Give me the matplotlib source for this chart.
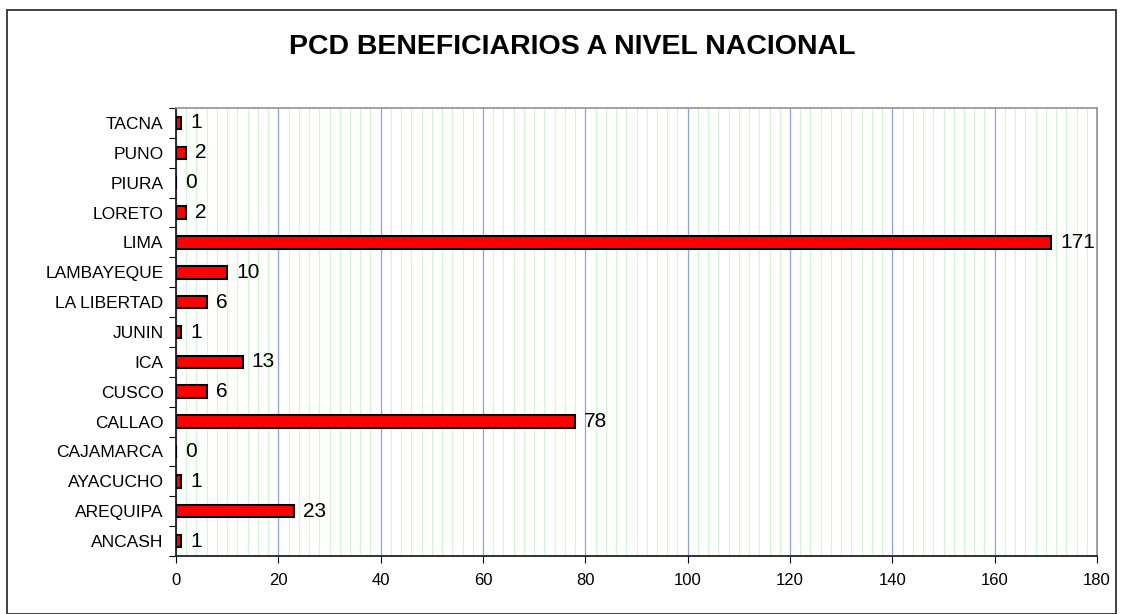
import matplotlib
matplotlib.use("Agg")
import matplotlib.pyplot as plt
from matplotlib.patches import Rectangle
import numpy as np

categories = ["ANCASH", "AREQUIPA", "AYACUCHO", "CAJAMARCA", "CALLAO", "CUSCO",
              "ICA", "JUNIN", "LA LIBERTAD", "LAMBAYEQUE", "LIMA", "LORETO",
              "PIURA", "PUNO", "TACNA"]
values = [1, 23, 1, 0, 78, 6, 13, 1, 6, 10, 171, 2, 0, 2, 1]
x_ticks = [0, 20, 40, 60, 80, 100, 120, 140, 160, 180]
title = "PCD BENEFICIARIOS A NIVEL NACIONAL"

plt.rcParams['font.family'] = ['Liberation Sans', 'DejaVu Sans']

fig = plt.figure(figsize=(11.23, 6.14), dpi=100)
fig.patches.append(Rectangle((7/1123, 0), (1116-7)/1123, (614-10)/614,
                             transform=fig.transFigure, fill=False,
                             edgecolor='#333333', linewidth=1.3))

ax = fig.add_axes([176/1123, 1-556/614, (1097-176)/1123, (556-108)/614])
y = np.arange(len(categories))
ax.barh(y, values, height=0.42, color='#ff0000', edgecolor='black', linewidth=1.5, zorder=3)

ax.set_xlim(0, 180)
ax.set_ylim(-0.5, len(categories) - 0.5)

ax.set_xticks(x_ticks)
ax.set_xticks(np.arange(0, 181, 2), minor=True)
ax.grid(True, which='minor', axis='x', color='#d2f5d2', linewidth=0.8, zorder=0)
ax.grid(True, which='major', axis='x', color='#8aa2f0', linewidth=0.9, zorder=1)
ax.tick_params(axis='x', which='major', direction='out', length=5, labelsize=12, pad=7)
ax.tick_params(axis='x', which='minor', length=0)

ax.set_yticks(np.arange(-0.5, len(categories), 1))
ax.set_yticklabels([])
ax.set_yticks(y, minor=True)
ax.set_yticklabels(categories, minor=True)
ax.tick_params(axis='y', which='major', direction='out', length=5)
ax.tick_params(axis='y', which='minor', length=0, labelsize=12.5, pad=9)

for s in ['left', 'bottom']:
    ax.spines[s].set_color('#222222')
    ax.spines[s].set_linewidth(1.3)
for s in ['top', 'right']:
    ax.spines[s].set_color('#999999')
    ax.spines[s].set_linewidth(1.3)

for yi, v in zip(y, values):
    ax.text(v + 1.8, yi, str(v), va='center', ha='left', fontsize=15, zorder=4)

fig.text(0.5 + 0.01, 1 - 47/614, title, ha='center', va='center', fontsize=20.5, fontweight='bold')

fig.savefig("out.png", dpi=100)
